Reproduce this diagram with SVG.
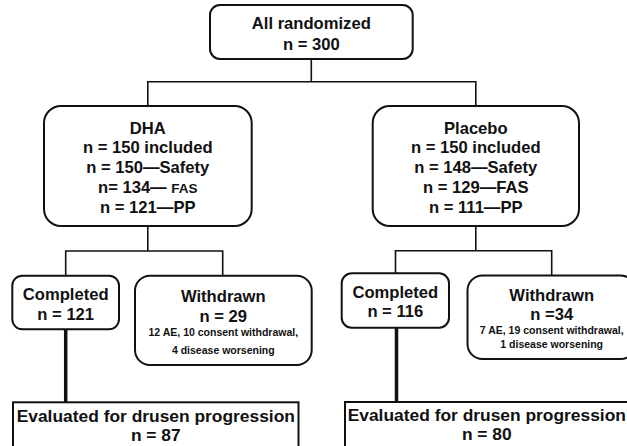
<svg xmlns="http://www.w3.org/2000/svg" width="627" height="446" viewBox="0 0 627 446">
<style>
  .box { fill: #ffffff; stroke: #111111; stroke-width: 2; }
  .conn { fill: none; stroke: #111111; stroke-width: 1.6; }
  .thick { fill: none; stroke: #111111; stroke-width: 3.5; }
  text { font-family: "Liberation Sans", Arial, sans-serif; font-weight: bold; fill: #111111; text-anchor: middle; }
  .t { font-size: 16.6px; }
  .e { font-size: 17.4px; }
  .s { font-size: 10.5px; }
</style>
<rect x="0" y="0" width="627" height="446" fill="#ffffff"/>
<g id="connectors">
  <path class="conn" d="M311.3 59 V81.7 M147.8 81.7 H475.8 M147.8 81 V106 M475.8 81 V106"/>
  <path class="conn" d="M147.8 226 V251 M65.7 251 H222.7 M65.7 250.3 V275.7 M222.7 250.3 V275.7"/>
  <path class="conn" d="M475.8 226 V250.7 M395.5 250.7 H551.7 M395.5 250 V273.3 M551.7 250 V275.5"/>
  <path class="thick" d="M65.7 329.3 V402.3"/>
  <path class="thick" d="M396.5 327.7 V402"/>
</g>
<g id="all-randomized">
  <rect class="box" x="210" y="5" width="202.7" height="54" rx="10"/>
  <text class="t" x="311.3" y="29.3">All randomized</text>
  <text class="t" x="311.3" y="50">n = 300</text>
</g>
<g id="dha">
  <rect class="box" x="44" y="106" width="207.7" height="120" rx="17"/>
  <text class="t" x="147.8" y="133.5">DHA</text>
  <text class="t" x="147.8" y="153.3">n = 150 included</text>
  <text class="t" x="147.8" y="173">n = 150—Safety</text>
  <text class="t" x="147.8" y="192.8">n= 134— <tspan font-size="13.5px">FAS</tspan></text>
  <text class="t" x="147.8" y="212.5">n = 121—PP</text>
</g>
<g id="placebo">
  <rect class="box" x="372.7" y="106" width="206.3" height="120" rx="17"/>
  <text class="t" x="475.8" y="133.5">Placebo</text>
  <text class="t" x="475.8" y="153.3">n = 150 included</text>
  <text class="t" x="475.8" y="173">n = 148—Safety</text>
  <text class="t" x="475.8" y="192.8">n = 129—FAS</text>
  <text class="t" x="475.8" y="212.5">n = 111—PP</text>
</g>
<g id="dha-completed">
  <rect class="box" x="12.3" y="275.7" width="106.7" height="53.6" rx="10"/>
  <text class="t" x="65.7" y="300">Completed</text>
  <text class="t" x="65.7" y="319.5">n = 121</text>
</g>
<g id="dha-withdrawn">
  <rect class="box" x="135" y="275.7" width="176.7" height="89.3" rx="15"/>
  <text class="t" x="223.3" y="301.7">Withdrawn</text>
  <text class="t" x="223.3" y="321.7">n = 29</text>
  <text class="s" x="223.3" y="336">12 AE, 10 consent withdrawal,</text>
  <text class="s" x="223.3" y="354">4 disease worsening</text>
</g>
<g id="placebo-completed">
  <rect class="box" x="341.7" y="273.3" width="107.3" height="54.4" rx="10"/>
  <text class="t" x="395.3" y="298.3">Completed</text>
  <text class="t" x="395.3" y="317.3">n = 116</text>
</g>
<g id="placebo-withdrawn">
  <rect class="box" x="467.5" y="275.5" width="168" height="83.5" rx="15"/>
  <text class="t" x="551.7" y="300.7">Withdrawn</text>
  <text class="t" x="551.7" y="320">n =34</text>
  <text class="s" x="551.7" y="333.8">7 AE, 19 consent withdrawal,</text>
  <text class="s" x="551.7" y="347.8">1 disease worsening</text>
</g>
<g id="dha-evaluated">
  <rect class="box" x="13" y="402.3" width="285.5" height="50"/>
  <text class="e" x="155.8" y="421.5">Evaluated for drusen progression</text>
  <text class="e" x="155.8" y="440.5">n = 87</text>
</g>
<g id="placebo-evaluated">
  <rect class="box" x="345" y="402" width="285" height="50"/>
  <text class="e" x="486.8" y="420.5">Evaluated for drusen progression</text>
  <text class="e" x="486.8" y="440">n = 80</text>
</g>
</svg>
